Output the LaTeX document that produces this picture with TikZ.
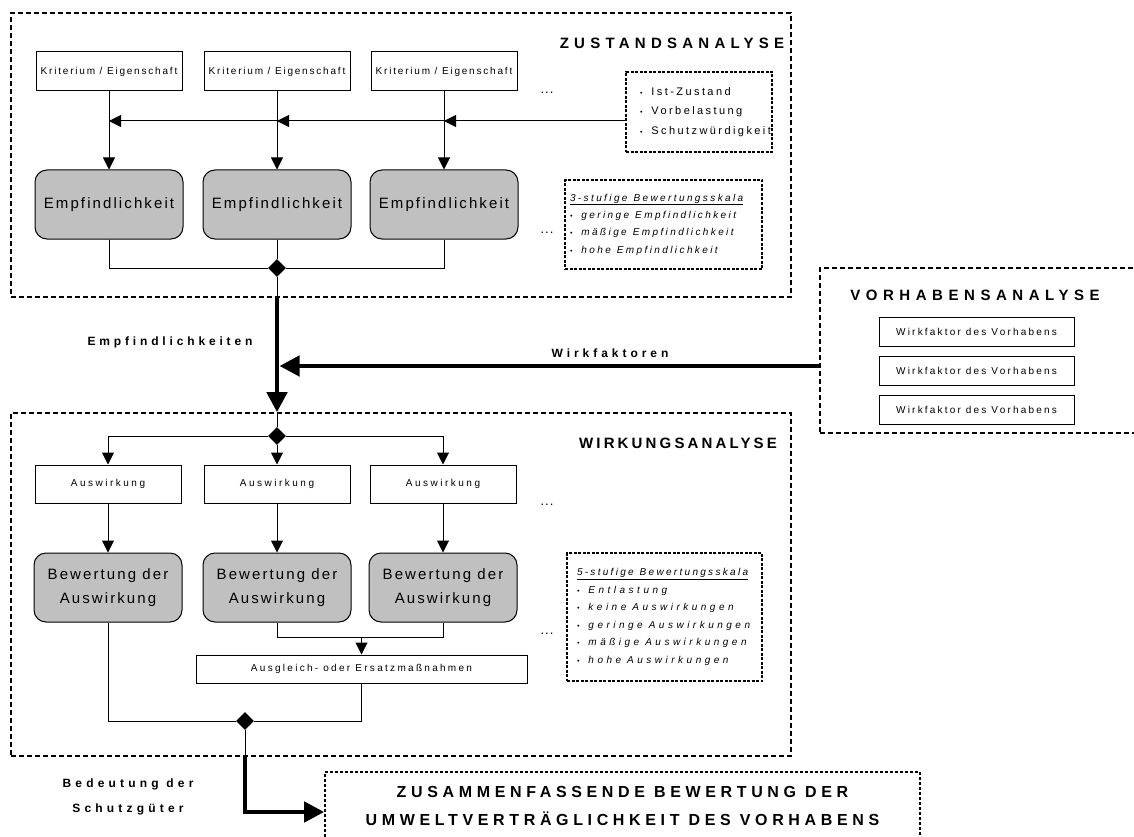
\documentclass[tikz,border=0pt]{standalone}
\usepackage{fontspec}
\setmainfont{Liberation Sans}
\usetikzlibrary{arrows.meta,shapes.geometric}
\definecolor{boxgrey}{HTML}{C0C0C0}
\newcommand\ls[1]{\addfontfeature{LetterSpace=#1}}
\newcommand\fsz[2]{\fontsize{#1}{#2}\selectfont}
\newlength\itmind
\newcommand\setind[1]{\setlength{\itmind}{#1}}
\newcommand\wgap{\hspace{6pt}}
\newcommand\itm[1]{\mbox{\hspace*{\itmind}{\fontsize{7}{7}\selectfont\textbullet}\hspace{9pt}#1}}
\newcommand\itmhead[1]{\mbox{\hspace*{\itmind}\underline{#1}}}

\tikzset{
  frame/.style={draw, line width=1.6pt, dash pattern=on 5pt off 3pt, inner sep=0pt},
  note/.style={draw, line width=1.5pt, dash pattern=on 3pt off 1.5pt, inner sep=0pt, align=left},
  box/.style={draw, line width=1pt, inner sep=0pt, minimum width=146pt, minimum height=39pt, font=\fsz{10}{12}\ls{#1}},
  box/.default=18,
  greybox/.style={draw, fill=boxgrey, line width=1pt, rounded corners=12pt, minimum width=148pt, minimum height=69pt, align=center, font=\fsz{15}{24}\ls{14}},
  junction/.style={diamond, fill=black, inner sep=0pt, minimum width=18pt, minimum height=18pt},
  wire/.style={line width=1pt},
  flow/.style={line width=1pt, -{Triangle[length=12pt,width=12pt]}},
  bigflow/.style={line width=4.5pt, -{Triangle[length=20pt,width=20pt]}},
  head/.style={font=\fsz{15}{18}\bfseries\ls{#1}},
  lab/.style={font=\fsz{12}{25}\bfseries\ls{#1}, align=center},
  dots/.style={font=\fsz{13}{14}\ls{8}},
}

\begin{document}
\begin{tikzpicture}[x=1pt,y=-1pt]
  \useasboundingbox (0,0) rectangle (1134,837);

  \node[frame, minimum width=780pt, minimum height=284pt] (zf) at (401,155) {};
  \node[frame, minimum width=780pt, minimum height=343pt] (wf) at (401,584.5) {};
  \node[frame, minimum width=330pt, minimum height=165pt] (vf) at (985,350.5) {};
  \node[frame, dash pattern=on 3pt off 2pt, minimum width=595pt, minimum height=68pt,
        font=\fsz{16}{28}\bfseries\ls{29}, align=center] (fin) at (622.5,806)
        {ZUSAMMENFASSENDE BEWERTUNG DER\\UMWELTVERTRÄGLICHKEIT DES VORHABENS};

  \node[head=35] (tz) at (672,43) {ZUSTANDSANALYSE};
  \node[head=21] (tw) at (678,443) {WIRKUNGSANALYSE};
  \node[head=37] (tv) at (975,295) {VORHABENSANALYSE};

  \node[box] (k1) at (109,71.5) {Kriterium / Eigenschaft};
  \node[box] (k2) at (277,71.5) {Kriterium / Eigenschaft};
  \node[box] (k3) at (444,71.5) {Kriterium / Eigenschaft};
  \node[dots] (d1) at (547,93) {...};

  \node[note, text width=146pt, minimum height=80pt, font={\fsz{11}{19.5}\ls{22}\setind{14pt}}] (ist) at (699,112)
       {\itm{Ist-Zustand}\\\itm{Vorbelastung}\\\itm{Schutzwürdigkeit}};

  \node[greybox] (e1) at (109,204.5) {Empfindlichkeit};
  \node[greybox] (e2) at (277,204.5) {Empfindlichkeit};
  \node[greybox] (e3) at (444,204.5) {Empfindlichkeit};
  \node[dots] (d2) at (547,233) {...};

  \node[note, text width=197pt, minimum height=89pt, font={\fsz{10}{17.3}\itshape\ls{24}\setind{5pt}}] (s3) at (663.5,224.5)
       {\itmhead{3-stufige\wgap Bewertungsskala}\\\itm{geringe\wgap Empfindlichkeit}\\\itm{mäßige\wgap Empfindlichkeit}\\\itm{hohe\wgap Empfindlichkeit}};

  \node[junction] (j1) at (277,268) {};

  \node[lab=32] (le) at (170,342) {Empfindlichkeiten};
  \node[lab=33] (lw) at (610,353) {Wirkfaktoren};

  \node[box=22, minimum width=195pt, minimum height=29pt] (w1) at (976.5,331.5) {Wirkfaktor des Vorhabens};
  \node[box=22, minimum width=195pt, minimum height=29pt] (w2) at (976.5,371) {Wirkfaktor des Vorhabens};
  \node[box=22, minimum width=195pt, minimum height=29pt] (w3) at (976.5,410) {Wirkfaktor des Vorhabens};

  \node[junction] (j2) at (277,436) {};

  \node[box=25, minimum height=38pt] (a1) at (108,484) {Auswirkung};
  \node[box=25, minimum height=38pt] (a2) at (277,484) {Auswirkung};
  \node[box=25, minimum height=38pt] (a3) at (443,484) {Auswirkung};
  \node[dots] (d3) at (547,505) {...};

  \node[greybox] (b1) at (108,587.5) {Bewertung der\\Auswirkung};
  \node[greybox] (b2) at (277,587.5) {Bewertung der\\Auswirkung};
  \node[greybox] (b3) at (443,587.5) {Bewertung der\\Auswirkung};
  \node[dots] (d4) at (547,634) {...};

  \node[note, text width=195pt, minimum height=128pt, font={\fsz{10}{17.6}\itshape\ls{35}\setind{10pt}}] (s5) at (664.5,617)
       {{\ls{23}\itmhead{5-stufige\wgap Bewertungsskala}}\\\itm{Entlastung}\\\itm{keine\wgap Auswirkungen}\\\itm{geringe\wgap Auswirkungen}\\\itm{mäßige\wgap Auswirkungen}\\\itm{hohe\wgap Auswirkungen}};

  \node[box=23, minimum width=331pt, minimum height=28pt] (ag) at (361.5,669) {Ausgleich- oder Ersatzmaßnahmen};

  \node[junction] (j3) at (245,721) {};

  \node[lab=35] (lb) at (128,797) {Bedeutung der\\Schutzgüter};

  \path (ist.west) ++(0,9) coordinate (f0);
  \path (vf.west) ++(0,15.5) coordinate (wk);
  \path (ag.north) ++(0,-17) coordinate (bj);
  \path (fin.west) ++(0,6) coordinate (fin-in);

  \draw[flow] (k1) -- (e1);
  \draw[flow] (k2) -- (e2);
  \draw[flow] (k3) -- (e3);
  \draw[flow] (f0) -- (f0 -| k3);
  \draw[flow] (f0 -| k3) -- (f0 -| k2);
  \draw[flow] (f0 -| k2) -- (f0 -| k1);

  \draw[wire] (e1) |- (j1) -| (e3);
  \draw[wire] (e2) -- (j1);
  \draw[wire] (j1) -- (j1 |- zf.south);
  \draw[bigflow] (j1 |- zf.south) -- (j1 |- wf.north);
  \draw[bigflow, shorten >=2.5pt] (wk) -- (wk -| j1);
  \draw[wire] (j1 |- wf.north) -- (j2);

  \draw[flow] (j2) -| (a1);
  \draw[flow] (j2) -| (a3);
  \draw[flow] (j2) -- (a2);
  \draw[flow] (a1) -- (b1);
  \draw[flow] (a2) -- (b2);
  \draw[flow] (a3) -- (b3);

  \draw[wire] (b2) |- (bj) -| (b3);
  \draw[flow] (bj) -- (ag);
  \draw[wire] (b1) |- (j3) -| (ag);
  \draw[wire] (j3) -- (j3 |- wf.south);
  \draw[bigflow] (j3 |- wf.south) |- (fin-in);
\end{tikzpicture}
\end{document}
